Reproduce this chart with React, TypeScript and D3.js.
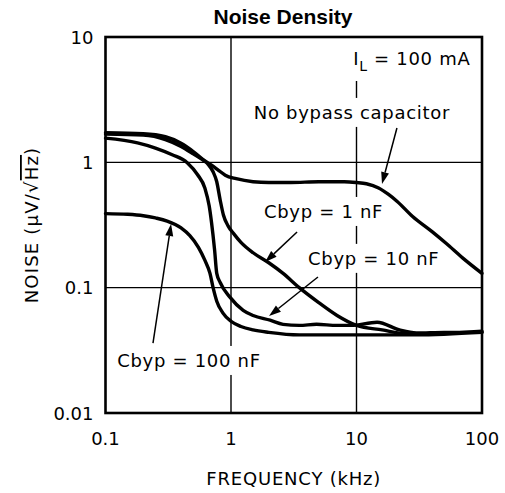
import { useEffect, useRef } from 'react';
import * as d3 from 'd3';

// frequency (kHz), noise (uV/rtHz)
const noBypass: [number, number][] = [
  [0.1, 1.72], [0.2, 1.69], [0.3, 1.6], [0.4, 1.42], [0.5, 1.22], [0.6, 1.05],
  [0.7, 0.95], [0.8, 0.86], [0.9, 0.79], [1.1, 0.74], [1.5, 0.7], [2, 0.69],
  [3, 0.69], [5, 0.7], [8, 0.7], [10, 0.69], [12, 0.675], [15, 0.625], [18, 0.555],
  [21, 0.49], [28, 0.37], [40, 0.28], [52, 0.225], [70, 0.173], [100, 0.13],
];
const cbyp1nF: [number, number][] = [
  [0.1, 1.68], [0.2, 1.65], [0.3, 1.52], [0.4, 1.34], [0.5, 1.17], [0.6, 1.04],
  [0.66, 0.96], [0.72, 0.84], [0.77, 0.7], [0.82, 0.5], [0.87, 0.38], [0.95, 0.31],
  [1.05, 0.27], [1.2, 0.23], [1.5, 0.19], [2, 0.158], [2.6, 0.13], [3.5, 0.1],
  [5, 0.076], [7, 0.06], [10, 0.05], [16, 0.046], [25, 0.043], [40, 0.043], [100, 0.045],
];
const cbyp10nF: [number, number][] = [
  [0.1, 1.56], [0.18, 1.43], [0.25, 1.3], [0.34, 1.15], [0.45, 0.99], [0.54, 0.8],
  [0.62, 0.62], [0.67, 0.45], [0.7, 0.33], [0.74, 0.2], [0.77, 0.13], [0.82, 0.11],
  [0.98, 0.084], [1.25, 0.066], [1.5, 0.06], [2.05, 0.055], [2.6, 0.051], [3.5, 0.05],
  [4.8, 0.051], [7, 0.05], [9, 0.05], [14.6, 0.053], [22, 0.046], [30, 0.0435],
  [50, 0.044], [100, 0.044],
];
const cbyp100nF: [number, number][] = [
  [0.1, 0.39], [0.15, 0.385], [0.2, 0.375], [0.25, 0.36], [0.31, 0.34], [0.4, 0.3],
  [0.47, 0.26], [0.55, 0.21], [0.62, 0.165], [0.68, 0.13], [0.72, 0.1], [0.77, 0.078],
  [0.86, 0.063], [1.0, 0.054], [1.2, 0.049], [1.5, 0.046], [2, 0.044], [3.5, 0.042],
  [10, 0.042], [30, 0.042], [100, 0.044],
];

const curves = [noBypass, cbyp1nF, cbyp10nF, cbyp100nF];

const freqTicks = [0.1, 1, 10, 100];
const freqTickLabels = ['0.1', '1', '10', '100'];
const noiseTicks = [0.01, 0.1, 1, 10];
const noiseTickLabels = ['0.01', '0.1', '1', '10'];

// labels and their pointer arrows, in data units
const notes = [
  { text: 'No bypass capacitor', at: [1.52, 2.22], from: [21, 1.88], to: [15.96, 0.671] },
  { text: 'Cbyp = 1 nF', at: [1.83, 0.36], from: [3.36, 0.278], to: [1.87, 0.16] },
  { text: 'Cbyp = 10 nF', at: [4.11, 0.152], from: [4.93, 0.1216], to: [2.01, 0.0594] },
  { text: 'Cbyp = 100 nF', at: [0.124, 0.0233], from: [0.239, 0.0361], to: [0.333, 0.322] },
];
const loadNote = { at: [9.4, 5.98] };

const W = 505;
const H = 493;
const margin = { top: 37, right: 23, bottom: 80, left: 105.5 };
const font = '"DejaVu Sans", sans-serif';

export default function App() {
  const ref = useRef<SVGSVGElement>(null);

  useEffect(() => {
    if (!ref.current) return;
    const svg = d3.select(ref.current);
    svg.selectAll('*').remove();

    const x = d3.scaleLog().domain([0.1, 100]).range([margin.left, W - margin.right]);
    const y = d3.scaleLog().domain([0.01, 10]).range([H - margin.bottom, margin.top]);
    const [x0, x1] = x.range();
    const [y0, y1] = y.range();

    svg.append('rect').attr('width', W).attr('height', H).attr('fill', '#fff');

    // grid
    const grid = svg.append('g').attr('stroke', '#000').attr('stroke-width', 1.4);
    grid.selectAll('.gx').data(freqTicks.slice(1, -1)).enter().append('line')
      .attr('x1', d => x(d)).attr('x2', d => x(d)).attr('y1', y1).attr('y2', y0);
    grid.selectAll('.gy').data(noiseTicks.slice(1, -1)).enter().append('line')
      .attr('y1', d => y(d)).attr('y2', d => y(d)).attr('x1', x0).attr('x2', x1);

    const boxes = svg.append('g');
    const lines = svg.append('g');
    const texts = svg.append('g')
      .attr('font-family', font).attr('font-size', 18).attr('letter-spacing', 0.7);

    // label texts with white boxes behind (they cut the grid)
    const pad = 4;
    notes.forEach(n => {
      const t = texts.append('text').attr('x', x(n.at[0])).attr('y', y(n.at[1])).text(n.text);
      const b = (t.node() as SVGTextElement).getBBox();
      boxes.append('rect').attr('x', b.x - pad).attr('y', b.y - pad)
        .attr('width', b.width + pad * 2).attr('height', b.height + pad * 2).attr('fill', '#fff');
    });

    const il = texts.append('text').attr('x', x(loadNote.at[0])).attr('y', y(loadNote.at[1]));
    il.append('tspan').text('I');
    il.append('tspan').attr('dy', 6).attr('font-size', 14).text('L');
    il.append('tspan').attr('dy', -6).text(' = 100 mA');
    const ib = (il.node() as SVGTextElement).getBBox();
    boxes.append('rect').attr('x', ib.x - pad).attr('y', y1 + 1)
      .attr('width', ib.width + pad * 2).attr('height', ib.y + ib.height + pad + 2 - y1)
      .attr('fill', '#fff');

    // curves
    const line = d3.line<[number, number]>()
      .x(d => x(d[0])).y(d => y(d[1]))
      .curve(d3.curveMonotoneX);
    lines.selectAll('path').data(curves).enter().append('path')
      .attr('d', d => line(d))
      .attr('fill', 'none').attr('stroke', '#000').attr('stroke-width', 3.4)
      .attr('stroke-linejoin', 'round').attr('stroke-linecap', 'round');

    // arrows
    notes.forEach(n => {
      const ax = x(n.from[0]), ay = y(n.from[1]);
      const bx = x(n.to[0]), by = y(n.to[1]);
      const ang = Math.atan2(by - ay, bx - ax);
      const len = 12, half = 4;
      const baseX = bx - len * Math.cos(ang), baseY = by - len * Math.sin(ang);
      lines.append('line').attr('x1', ax).attr('y1', ay).attr('x2', baseX).attr('y2', baseY)
        .attr('stroke', '#000').attr('stroke-width', 1.5);
      const px = -Math.sin(ang) * half, py = Math.cos(ang) * half;
      lines.append('path')
        .attr('d', `M${bx},${by}L${baseX + px},${baseY + py}L${baseX - px},${baseY - py}Z`)
        .attr('fill', '#000');
    });

    // frame
    svg.append('rect').attr('x', x0).attr('y', y1).attr('width', x1 - x0).attr('height', y0 - y1)
      .attr('fill', 'none').attr('stroke', '#000').attr('stroke-width', 2.6);

    // tick labels
    const ticks = svg.append('g').attr('font-family', font).attr('font-size', 18).attr('fill', '#000');
    ticks.selectAll('.tx').data(freqTicks).enter().append('text')
      .attr('x', d => x(d)).attr('y', y0 + 32).attr('text-anchor', 'middle')
      .text((d, i) => freqTickLabels[i]);
    ticks.selectAll('.ty').data(noiseTicks).enter().append('text')
      .attr('x', x0 - 12).attr('y', d => y(d) + 6.5).attr('text-anchor', 'end')
      .text((d, i) => noiseTickLabels[i]);

    // axis titles
    svg.append('text').attr('x', (x0 + x1) / 2).attr('y', y0 + 72)
      .attr('text-anchor', 'middle').attr('font-family', font).attr('font-size', 18)
      .attr('letter-spacing', 0.8).text('FREQUENCY (kHz)');

    const yt = svg.append('text')
      .attr('transform', `translate(38,${(y0 + y1) / 2}) rotate(-90)`)
      .attr('text-anchor', 'middle').attr('font-family', font).attr('font-size', 18)
      .attr('letter-spacing', 1.2);
    yt.append('tspan').text('NOISE (\u03BCV/\u221A');
    yt.append('tspan').style('text-decoration', 'overline').text('Hz');
    yt.append('tspan').text(')');

    svg.append('text').attr('x', 283).attr('y', 24).attr('text-anchor', 'middle')
      .attr('font-family', '"Liberation Sans", Arial, sans-serif').attr('font-weight', 'bold')
      .attr('font-size', 21).text('Noise Density');
  }, []);

  return (
    <svg ref={ref} width={W} height={H}
      style={{ position: 'absolute', left: 0, top: 0, display: 'block' }} />
  );
}
